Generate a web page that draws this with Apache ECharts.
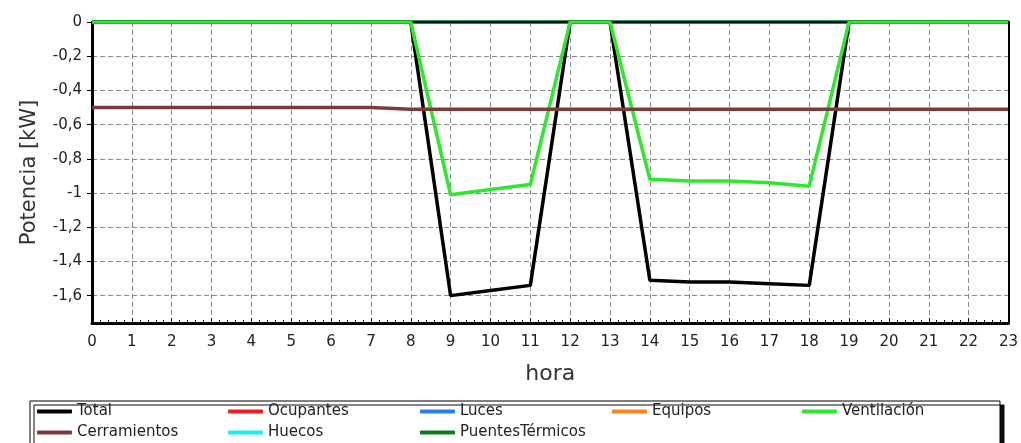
<!DOCTYPE html>
<html><head><meta charset="utf-8">
<script src="https://cdn.jsdelivr.net/npm/echarts@6/dist/echarts.min.js"></script>
<style>html,body{margin:0;padding:0;background:#fff}#c{width:1021px;height:443px}</style>
</head><body><div id="c"></div>
<script>
const hours = [0,1,2,3,4,5,6,7,8,9,10,11,12,13,14,15,16,17,18,19,20,21,22,23];
const total =        [0,0,0,0,0,0,0,0,0,-1.60,-1.57,-1.54,0,0,-1.51,-1.52,-1.52,-1.53,-1.54,0,0,0,0,0];
const ventilacion =  [0,0,0,0,0,0,0,0,0,-1.01,-0.98,-0.95,0,0,-0.92,-0.93,-0.93,-0.94,-0.96,0,0,0,0,0];
const cerramientos = [-0.50,-0.50,-0.50,-0.50,-0.50,-0.50,-0.50,-0.50,-0.51,-0.51,-0.51,-0.51,-0.51,-0.51,-0.51,-0.51,-0.51,-0.51,-0.51,-0.51,-0.51,-0.51,-0.51,-0.51];
const ocupantes =    [0,0,0,0,0,0,0,0,0,0,0,0,0,0,0,0,0,0,0,0,0,0,0,0];
const luces =        [0,0,0,0,0,0,0,0,0,0,0,0,0,0,0,0,0,0,0,0,0,0,0,0];
const equipos =      [0,0,0,0,0,0,0,0,0,0,0,0,0,0,0,0,0,0,0,0,0,0,0,0];
const huecos =       [0,0,0,0,0,0,0,0,0,0,0,0,0,0,0,0,0,0,0,0,0,0,0,0];
const puentes =      [0,0,0,0,0,0,0,0,0,0,0,0,0,0,0,0,0,0,0,0,0,0,0,0];
const yTicks = [0,-0.2,-0.4,-0.6,-0.8,-1,-1.2,-1.4,-1.6];
const names = ['Total','Ocupantes','Luces','Equipos','Ventilación','Cerramientos','Huecos','PuentesTérmicos'];
const colors = ['#000000','#ee1c24','#2a7fe8','#f7861e','#2ee82e','#7b3b3b','#18f0f0','#107a1c'];
const values = [total, ocupantes, luces, equipos, ventilacion, cerramientos, huecos, puentes];
const zs = [3,1,1,1,4,5,1,1];

const FONT = '"DejaVu Sans", Verdana, sans-serif';
const pair = arr => hours.map((h,i)=>[h, arr[i]]);

const legendPos = [
  [37,404],[228,404],[420,404],[612,404],[802,404],
  [37,425],[228,425],[420,425]
];
const legends = names.map((n,i)=>({
  data:[n], left:legendPos[i][0], top:legendPos[i][1], orient:'horizontal',
  icon:'roundRect', itemWidth:35, itemHeight:4, padding:0,
  textStyle:{fontFamily:FONT, fontSize:15, color:'#222'},
  selectedMode:false
}));

const chart = echarts.init(document.getElementById('c'), null, {renderer:'canvas'});
chart.setOption({
  animation:false,
  backgroundColor:'#fff',
  grid:{left:92, right:10, top:22, bottom:120, show:false},
  xAxis:[{
    type:'value', min:0, max:23, interval:1,
    name:'hora', nameLocation:'middle', nameGap:40,
    nameTextStyle:{fontFamily:FONT, fontSize:22, color:'#333'},
    axisLine:{show:true, onZero:false, lineStyle:{color:'#000', width:3}},
    axisTick:{show:true, inside:true, length:5, lineStyle:{color:'#000'}},
    minorTick:{show:true, splitNumber:5, length:3, lineStyle:{color:'#000'}},
    axisLabel:{fontFamily:FONT, fontSize:15, color:'#222', margin:12},
    splitLine:{show:true, lineStyle:{color:'#8a8a8a', type:[5,3], width:1}}
  },{
    type:'value', min:0, max:23, interval:1, position:'top', z:2,
    axisLine:{show:true, onZero:false, lineStyle:{color:'#111', width:2}},
    axisTick:{show:false}, axisLabel:{show:false}, splitLine:{show:false}
  }],
  yAxis:[{
    type:'value', min:-1.76, max:0,
    name:'Potencia [kW]', nameLocation:'middle', nameGap:52,
    nameTextStyle:{fontFamily:FONT, fontSize:21, color:'#333'},
    axisLine:{show:true, onZero:false, lineStyle:{color:'#000', width:3}},
    axisTick:{show:true, inside:false, length:5, customValues:yTicks, lineStyle:{color:'#000'}},
    axisLabel:{fontFamily:FONT, fontSize:15, color:'#222', margin:10, customValues:yTicks,
      formatter:v=>String(Math.round(v*10)/10).replace('.',',')},
    splitLine:{show:true, lineStyle:{color:'#8a8a8a', type:[5,3], width:1}}
  },{
    type:'value', min:-1.76, max:0, position:'right', z:6,
    axisLine:{show:true, onZero:false, lineStyle:{color:'#000', width:2}},
    axisTick:{show:false}, axisLabel:{show:false}, splitLine:{show:false}
  }],
  legend:legends,
  graphic:[{
    type:'rect', shape:{x:30, y:401, width:970, height:60},
    style:{fill:'#fff', stroke:'#000', lineWidth:1, shadowColor:'rgba(0,0,0,0.95)', shadowOffsetX:4, shadowOffsetY:4, shadowBlur:0},
    z:-1, silent:true
  }],
  series:names.map((n,i)=>({
    name:n, type:'line', data:pair(values[i]), z:zs[i],
    showSymbol:false, symbol:'none', color:colors[i],
    lineStyle:{width:3.5, color:colors[i]}, clip:true
  }))
});
</script></body></html>
